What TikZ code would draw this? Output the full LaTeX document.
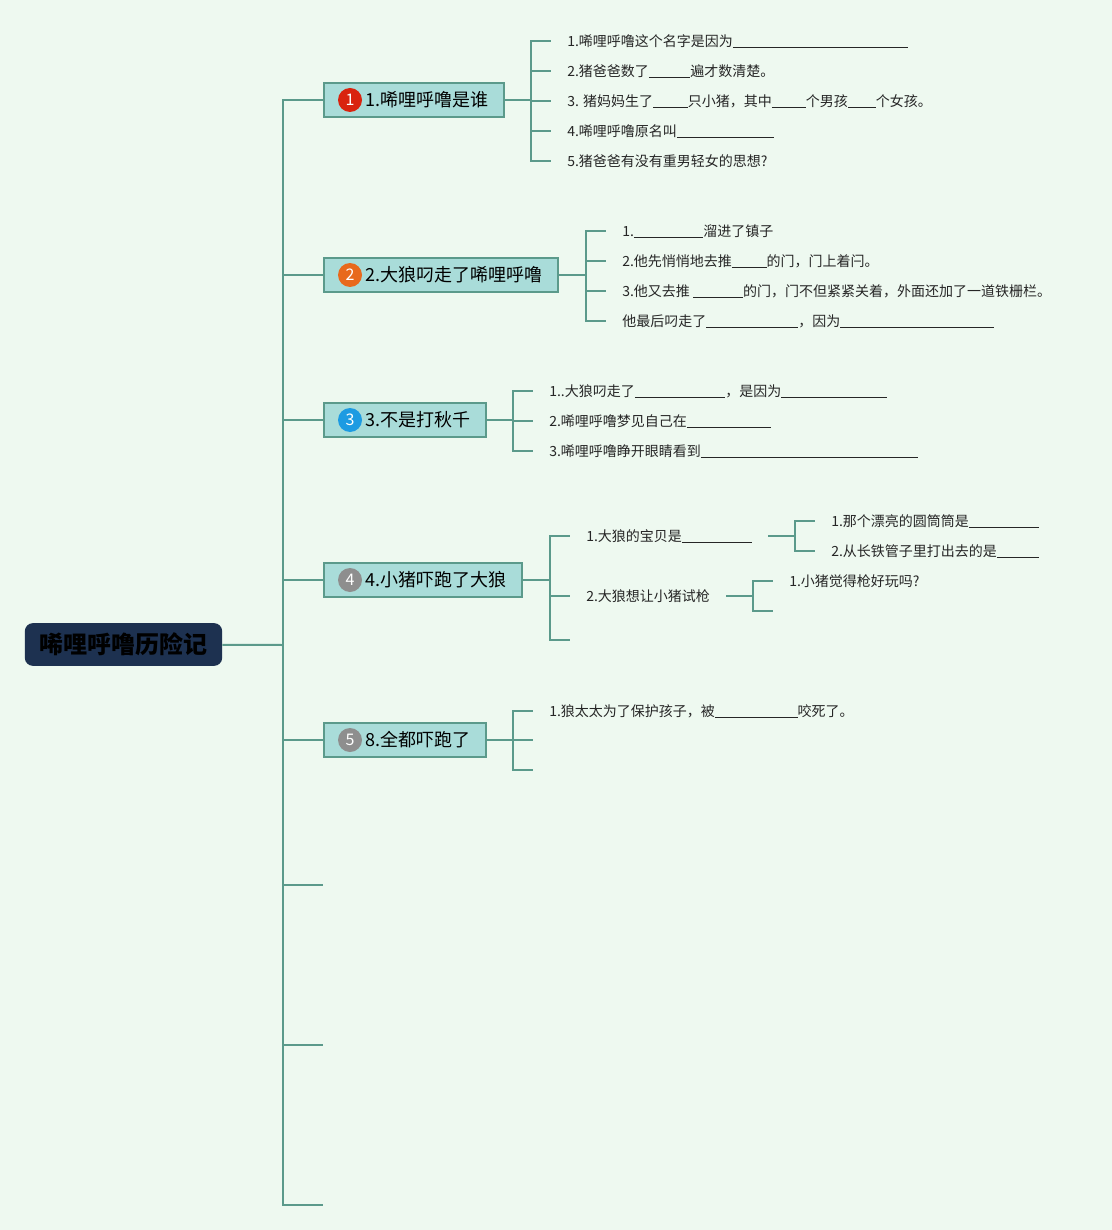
\documentclass[tikz,border=0pt]{standalone}
\usepackage{fontspec}
\setmainfont{Noto Sans CJK SC}
\usepackage{xcolor}
\usepackage{tikz}
\usetikzlibrary{positioning}

\definecolor{bgmint}{HTML}{EEF9F0}
\definecolor{linegreen}{HTML}{5B9A8B}
\definecolor{boxfill}{HTML}{A9DCD9}
\definecolor{rootnavy}{HTML}{1D3150}
\definecolor{badgered}{HTML}{D9230F}
\definecolor{badgeorange}{HTML}{E8691C}
\definecolor{badgeblue}{HTML}{1D9BE2}
\definecolor{badgegrey}{HTML}{8E8E8E}

\newcommand{\blank}[1]{\rule[-1.2pt]{#1}{0.5pt}}

\begin{document}
\begin{tikzpicture}[
    x=0.75pt, y=-0.75pt,
    conn/.style={draw=linegreen, line width=1.5pt},
    root/.style={rectangle, rounded corners=6pt, fill=rootnavy, minimum width=148pt, minimum height=32pt, font=\fontsize{18}{20}\selectfont\bfseries},
    topic/.style={rectangle, draw=linegreen, line width=1.5pt, fill=boxfill, minimum height=26pt, inner xsep=11.25pt, anchor=west, font=\fontsize{13.5}{15}\selectfont},
    badge/.style={circle, fill=#1, text=white, minimum size=18pt, inner sep=0pt, font=\fontsize{12}{12}\selectfont},
    leaf/.style={anchor=west, inner xsep=12pt, inner ysep=2pt, font=\fontsize{10.5}{12}\selectfont, text=black!85}
]
% Background and page size
\fill[bgmint] (0,0) rectangle (1112,1230);
\useasboundingbox (0,0) rectangle (1112,1230);

% Column positions
\def\colSpine{283}
\def\colTopic{323}

% === Root and spine ===
\node[root] (root) at (123.5,644.5) {唏哩呼噜历险记};
\coordinate (spine) at (\colSpine,645);
\draw[conn] (root) -- (spine);

% === Topics ===
\node[topic, minimum width=132pt] (t1) at (\colTopic,100) {\hspace{20pt}1.唏哩呼噜是谁};
\node[topic, minimum width=173pt] (t2) at (\colTopic,275) {\hspace{20pt}2.大狼叼走了唏哩呼噜};
\node[topic, minimum width=119pt] (t3) at (\colTopic,420) {\hspace{20pt}3.不是打秋千};
\node[topic, minimum width=146pt] (t4) at (\colTopic,580) {\hspace{20pt}4.小猪吓跑了大狼};
\node[topic, minimum width=119pt] (t5) at (\colTopic,740) {\hspace{20pt}8.全都吓跑了};
\coordinate (t6) at (\colTopic,885);
\coordinate (t7) at (\colTopic,1045);
\coordinate (t8) at (\colTopic,1205);

% Badges on topics
\node[badge=badgered] (b1) at ([xshift=20.25pt]t1.west) {1};
\node[badge=badgeorange] (b2) at ([xshift=20.25pt]t2.west) {2};
\node[badge=badgeblue] (b3) at ([xshift=20.25pt]t3.west) {3};
\node[badge=badgegrey] (b4) at ([xshift=20.25pt]t4.west) {4};
\node[badge=badgegrey] (b5) at ([xshift=20.25pt]t5.west) {5};

% Spine to topics
\draw[conn] (spine) |- (t1.west);
\draw[conn] (spine) |- (t2.west);
\draw[conn] (spine) |- (t3.west);
\draw[conn] (spine) |- (t4.west);
\draw[conn] (spine) |- (t5.west);
\draw[conn] (spine) |- (t6);
\draw[conn] (spine) |- (t7);
\draw[conn] (spine) |- (t8);

% === Topic 1 ===
\coordinate (j1) at (531,100);
\node[leaf] (l11) at (551,41) {1.唏哩呼噜这个名字是因为\blank{131pt}};
\node[leaf] (l12) at (551,71) {2.猪爸爸数了\blank{31pt}遍才数清楚。};
\node[leaf] (l13) at (551,101) {3. 猪妈妈生了\blank{26pt}只小猪，其中\blank{25.5pt}个男孩\blank{21pt}个女孩。};
\node[leaf] (l14) at (551,131) {4.唏哩呼噜原名叫\blank{73pt}};
\node[leaf] (l15) at (551,161) {5.猪爸爸有没有重男轻女的思想?};
\draw[conn] (t1) -- (j1);
\draw[conn] (j1) |- (l11.west);
\draw[conn] (j1) |- (l12.west);
\draw[conn] (j1) |- (l13.west);
\draw[conn] (j1) |- (l14.west);
\draw[conn] (j1) |- (l15.west);

% === Topic 2 ===
\coordinate (j2) at (586,275);
\node[leaf] (l21) at (606,231) {1.\blank{52pt}溜进了镇子};
\node[leaf] (l22) at (606,261) {2.他先悄悄地去推\blank{26pt}的门，门上着闩。};
\node[leaf] (l23) at (606,291) {3.他又去推 \blank{37.5pt}的门，门不但紧紧关着，外面还加了一道铁栅栏。};
\node[leaf] (l24) at (606,321) {他最后叼走了\blank{69pt}，因为\blank{115.5pt}};
\draw[conn] (t2) -- (j2);
\draw[conn] (j2) |- (l21.west);
\draw[conn] (j2) |- (l22.west);
\draw[conn] (j2) |- (l23.west);
\draw[conn] (j2) |- (l24.west);

% === Topic 3 ===
\coordinate (j3) at (513,420);
\node[leaf] (l31) at (533,391) {1..大狼叼走了\blank{68pt}，是因为\blank{79pt}};
\node[leaf] (l32) at (533,421) {2.唏哩呼噜梦见自己在\blank{63pt}};
\node[leaf] (l33) at (533,451) {3.唏哩呼噜睁开眼睛看到\blank{163pt}};
\draw[conn] (t3) -- (j3);
\draw[conn] (j3) |- (l31.west);
\draw[conn] (j3) |- (l32.west);
\draw[conn] (j3) |- (l33.west);

% === Topic 4 ===
\coordinate (j4) at (550,580);
\node[leaf] (l41) at (570,536) {1.大狼的宝贝是\blank{52.5pt}};
\node[leaf] (l42) at (570,596) {2.大狼想让小猪试枪};
\coordinate (l43) at (570,640);
\draw[conn] (t4) -- (j4);
\draw[conn] (j4) |- (l41.west);
\draw[conn] (j4) |- (l42.west);
\draw[conn] (j4) |- (l43);

% Topic 4, first sub-branch
\coordinate (j41) at (795,536);
\node[leaf] (l411) at (815,521) {1.那个漂亮的圆筒筒是\blank{52.5pt}};
\node[leaf] (l412) at (815,551) {2.从长铁管子里打出去的是\blank{31.5pt}};
\draw[conn] (l41) -- (j41);
\draw[conn] (j41) |- (l411.west);
\draw[conn] (j41) |- (l412.west);

% Topic 4, second sub-branch
\coordinate (j42) at (753,596);
\node[leaf] (l421) at (773,581) {1.小猪觉得枪好玩吗?};
\coordinate (l422) at (773,611);
\draw[conn] (l42) -- (j42);
\draw[conn] (j42) |- (l421.west);
\draw[conn] (j42) |- (l422);

% === Topic 5 ===
\coordinate (j5) at (513,740);
\node[leaf] (l51) at (533,711) {1.狼太太为了保护孩子，被\blank{62pt}咬死了。};
\coordinate (l52) at (533,740);
\coordinate (l53) at (533,770);
\draw[conn] (t5) -- (j5);
\draw[conn] (j5) |- (l51.west);
\draw[conn] (j5) |- (l52);
\draw[conn] (j5) |- (l53);

\end{tikzpicture}
\end{document}
